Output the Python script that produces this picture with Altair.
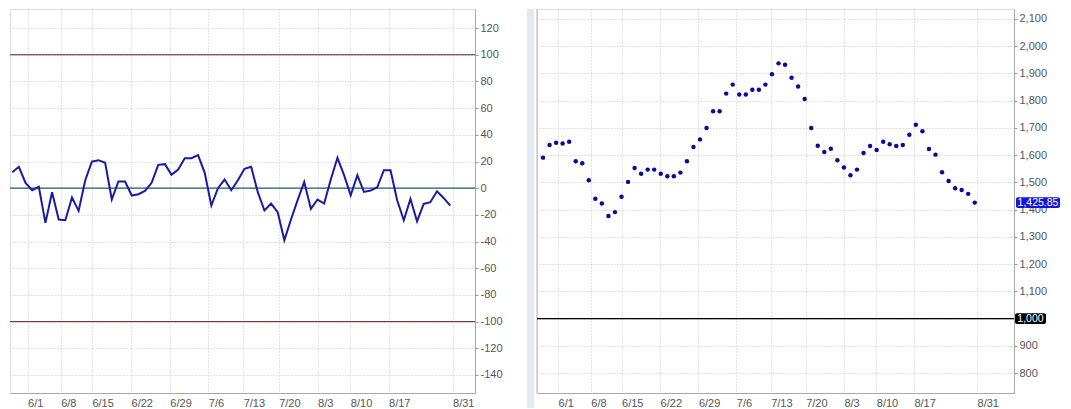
import altair as alt
import pandas as pd

# ---- data ----
tick_pos = [2.3, 7.3, 12.0, 17.9, 23.75, 29.55, 34.8, 40.15, 46.0, 50.95, 56.7, 66.35]
tick_labels = ["6/1", "6/8", "6/15", "6/22", "6/29", "7/6", "7/13", "7/20", "8/3", "8/10", "8/17", "8/31"]

osc = [12, 16, 4, -1.5, 1, -26, -3, -23.5, -24, -7, -17, 6, 20, 21, 19, -8.5, 5, 5, -5.5, -4.5,
       -2, 4, 17.5, 18, 10, 14, 22.5, 22.5, 24.8, 11.5, -13, 0, 6.5, -1.5, 6, 14.5, 16, -3, -16.7, -11.5,
       -18, -39, -23.5, -9, 4.7, -15.5, -8.5, -11.5, 6.5, 22.8, 9.8, -5.3, 9.8, -2.8, -1.8, 0.7, 13.5, 13.5, -9, -24,
       -8, -24.8, -11.8, -10.5, -2.3, -7.3, -13]

price = [1591, 1637, 1646, 1643, 1649, 1578, 1570, 1508, 1440, 1423, 1377, 1391, 1447, 1502, 1553, 1532, 1547, 1547, 1532, 1523,
         1523, 1536, 1578, 1630, 1658, 1700, 1761, 1761, 1826, 1859, 1823, 1823, 1840, 1840, 1859, 1897, 1937, 1932, 1884, 1852,
         1806, 1700, 1635, 1612, 1624, 1581, 1555, 1526, 1547, 1608, 1634, 1619, 1649, 1640, 1634, 1637, 1675, 1712, 1688, 1623,
         1602, 1537, 1505, 1479, 1472, 1458, 1425.85]

osc_ticks = list(range(-140, 141, 20))
price_ticks = list(range(800, 2101, 100))
osc_bands = [100, -100]
osc_mid = [0]
price_ref = [1000]

# ---- styling ----
FONT = "Liberation Sans, Arial, sans-serif"
FS = 11
LBL = "#555555"
GRID = "#c4c4c4"
DOMAIN = "#a8a8a8"

idx = list(range(len(osc)))
osc_df = pd.DataFrame({"i": idx, "v": osc})
price_df = pd.DataFrame({"i": idx, "v": price})

pos_js = "[" + ",".join(repr(p) for p in tick_pos) + "]"
lab_js = "[" + ",".join("'" + t + "'" for t in tick_labels) + "]"
x_label_expr = f"{lab_js}[indexof({pos_js}, datum.value)]"

X_AXIS = alt.Axis(values=tick_pos, labelExpr=x_label_expr, labelAlign="left", labelBaseline="top",
                  labelPadding=4, tickSize=0, domainColor=DOMAIN, grid=True, gridColor=GRID,
                  gridDash=[1, 2], labelColor=LBL, labelFont=FONT, labelFontSize=FS, title=None,
                  labelFlush=False, labelOverlap=False)


def y_axis(values, expr):
    return alt.Axis(orient="right", values=values, labelExpr=expr, tickSize=3, tickColor="#999999",
                    domainColor=DOMAIN, grid=True, gridColor=GRID, gridDash=[1, 2], labelColor=LBL,
                    labelFont=FONT, labelFontSize=FS, labelPadding=2, title=None,
                    labelFlush=False, labelOverlap=False)


# ---- left panel (oscillator) ----
LW, H = 465, 384
lx = alt.Scale(domain=[-0.34, 69.73], nice=False, zero=False)
ly = alt.Scale(domain=[-153.5, 134.3], nice=False, zero=False)
LY_AXIS = y_axis(osc_ticks, "'' + datum.value")

band_rules = alt.Chart(pd.DataFrame({"v": osc_bands})).mark_rule(color="#6a2222", strokeWidth=1).encode(
    y=alt.Y("v:Q", scale=ly, axis=LY_AXIS))
mid_rule = alt.Chart(pd.DataFrame({"v": osc_mid})).mark_rule(color="#1e5c6c", strokeWidth=1.2).encode(
    y=alt.Y("v:Q", scale=ly, axis=LY_AXIS))
osc_line = alt.Chart(osc_df).mark_line(color="#1a1aa6", strokeWidth=2, clip=True).encode(
    x=alt.X("i:Q", scale=lx, axis=X_AXIS),
    y=alt.Y("v:Q", scale=ly, axis=LY_AXIS),
)

left = alt.layer(band_rules, mid_rule, osc_line).properties(width=LW, height=H)

# ---- right panel (price) ----
RW = 477
rx = alt.Scale(domain=[-0.92, 72.0], nice=False, zero=False)
ry = alt.Scale(domain=[727, 2136.6], nice=False, zero=False)
# the reference-level label is shown in its own box, so its plain axis label is left blank
RY_AXIS = y_axis(price_ticks, f"datum.value == {price_ref[0]} ? '' : format(datum.value, ',')")

sep = alt.Chart(pd.DataFrame({"a": [0]})).mark_rect(color="#e3eaef", clip=False).encode(
    x=alt.value(-10), x2=alt.value(-3), y=alt.value(0), y2=alt.value(H + 15))
border = alt.Chart(pd.DataFrame({"a": [0]})).mark_rule(color="#b4b4b4", strokeWidth=1, clip=False).encode(
    x=alt.value(0), y=alt.value(0), y2=alt.value(H))

dots = alt.Chart(price_df).mark_circle(color="#0b0b96", size=20, opacity=1, clip=True).encode(
    x=alt.X("i:Q", scale=rx, axis=X_AXIS),
    y=alt.Y("v:Q", scale=ry, axis=RY_AXIS),
)
ref_rule = alt.Chart(pd.DataFrame({"v": price_ref})).mark_rule(color="#000000", strokeWidth=1.3).encode(
    y=alt.Y("v:Q", scale=ry, axis=RY_AXIS))

half = 20  # half box height in price units
ref_box = alt.Chart(pd.DataFrame({"v": price_ref})).transform_calculate(
    lo=f"datum.v - {half}", hi=f"datum.v + {half}"
).mark_rect(color="#000000", cornerRadius=2, clip=False).encode(
    x=alt.value(RW + 1), x2=alt.value(RW + 32), y=alt.Y("lo:Q", scale=ry, axis=RY_AXIS), y2="hi:Q")
ref_txt = alt.Chart(pd.DataFrame({"v": price_ref})).transform_calculate(
    t="format(datum.v, ',')"
).mark_text(color="white", font=FONT, fontSize=10.5, align="center", baseline="middle", clip=False).encode(
    x=alt.value(RW + 16.5), y=alt.Y("v:Q", scale=ry, axis=RY_AXIS), text="t:N")

last_df = price_df.tail(1)
last_box = alt.Chart(last_df).transform_calculate(
    lo=f"datum.v - {half}", hi=f"datum.v + {half}"
).mark_rect(color="#1414dc", cornerRadius=2, clip=False).encode(
    x=alt.value(RW + 2), x2=alt.value(RW + 46), y=alt.Y("lo:Q", scale=ry, axis=RY_AXIS), y2="hi:Q")
last_txt = alt.Chart(last_df).transform_calculate(
    t="format(datum.v, ',.2f')"
).mark_text(color="white", font=FONT, fontSize=10.5, align="center", baseline="middle", clip=False).encode(
    x=alt.value(RW + 24), y=alt.Y("v:Q", scale=ry, axis=RY_AXIS), text="t:N")

right = alt.layer(sep, border, dots, ref_rule, ref_box, ref_txt, last_box, last_txt).properties(
    width=RW, height=H)

chart = alt.hconcat(left, right, spacing=62, bounds="flush", padding=0).configure_view(
    strokeWidth=0).configure_axis(labelOverlap=False).configure(background="white")

chart.save("out.html", embed_options={"renderer": "svg", "actions": False})
